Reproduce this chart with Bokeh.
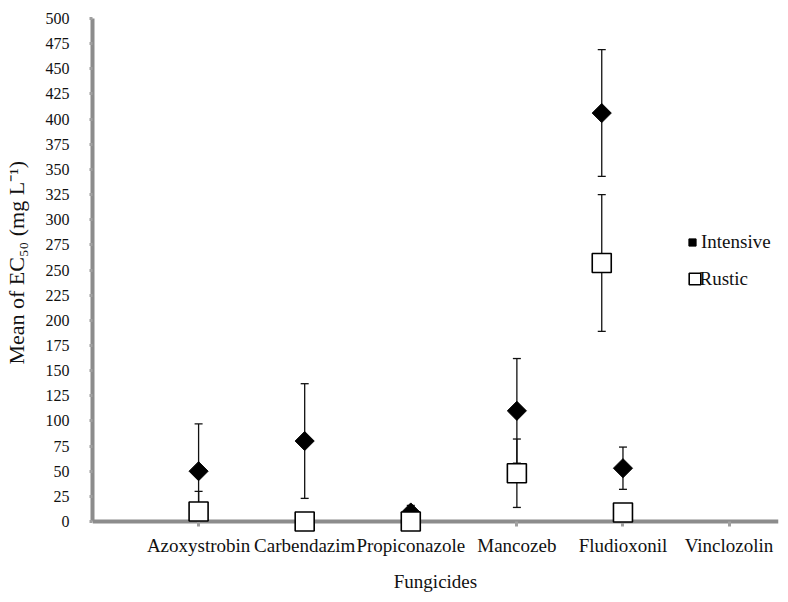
import math
from bokeh.plotting import figure
from bokeh.models import (ColumnDataSource, Whisker, TeeHead, Legend, LegendItem,
                          FixedTicker, Range1d, Label, LinearAxis)
from bokeh.embed import file_html
from bokeh.resources import INLINE

# ---- data ----
categories = ["Azoxystrobin", "Carbendazim", "Propiconazole", "Mancozeb", "Fludioxonil", "Vinclozolin"]
category_pos = [1, 2, 3, 4, 5, 6]

intensive_x = [1, 2, 3, 4, 4.8, 5]
intensive_mean = [50, 80, 9, 110, 406, 53]
intensive_err = [47, 57, 7, 52, 63, 21]

rustic_x = [1, 2, 3, 4, 4.8, 5]
rustic_mean = [10, 0, 0, 48, 257, 9]
rustic_err = [20, 0, 0, 34, 68, 0]

y_ticks = list(range(0, 501, 25))

FONT = "Liberation Serif"
AXIS_GRAY = "#8c8c8c"
TICK_GRAY = "#a0a0a0"
TEXT = "#111111"


def make_source(xs, means, errs):
    return ColumnDataSource(dict(
        x=xs, y=means,
        upper=[m + e for m, e in zip(means, errs)],
        lower=[max(m - e, 0) for m, e in zip(means, errs)],
    ))


src_int = make_source(intensive_x, intensive_mean, intensive_err)
src_rus = make_source(rustic_x, rustic_mean, rustic_err)

# frame extends a little below y=0 so markers sitting on the axis are not cut
p = figure(width=780, height=594,
           x_range=Range1d(0, 6.466), y_range=Range1d(-12.9, 500),
           output_backend="svg", toolbar_location=None,
           min_border_left=90, min_border_right=2,
           min_border_top=18, min_border_bottom=59)
p.grid.visible = False
p.outline_line_color = None
p.background_fill_color = "white"

for src in (src_int, src_rus):
    w = Whisker(source=src, base="x", upper="upper", lower="lower",
                line_color=TEXT, line_width=1.3,
                upper_head=TeeHead(size=8, line_color=TEXT, line_width=1.3),
                lower_head=TeeHead(size=8, line_color=TEXT, line_width=1.3))
    p.add_layout(w)

r_int = p.scatter("x", "y", source=src_int, marker="square", angle=math.pi / 4,
                  size=13.5, fill_color="black", line_color="black", line_width=1,
                  level="annotation")
r_rus = p.scatter("x", "y", source=src_rus, marker="square",
                  size=19, fill_color="white", line_color="black", line_width=1.6,
                  level="annotation")

# x axis at the frame bottom: only the category labels and the title
xa = p.xaxis[0]
xa.ticker = FixedTicker(ticks=category_pos)
xa.major_label_overrides = {pos: cat for pos, cat in zip(category_pos, categories)}
xa.axis_line_color = None
xa.major_tick_line_color = None
xa.major_tick_out = 0
xa.major_tick_in = 0
xa.minor_tick_line_color = None
xa.major_label_standoff = 0
xa.major_label_text_font = FONT
xa.major_label_text_font_size = "19px"
xa.major_label_text_color = TEXT
xa.axis_label = "Fungicides"
xa.axis_label_standoff = 12
xa.axis_label_text_font = FONT
xa.axis_label_text_font_style = "normal"
xa.axis_label_text_font_size = "19px"
xa.axis_label_text_color = TEXT

# x axis line with its ticks, drawn at y = 0
x0 = LinearAxis(fixed_location=0, ticker=FixedTicker(ticks=category_pos),
                axis_line_color=AXIS_GRAY, axis_line_width=4,
                major_tick_line_color=TICK_GRAY, major_tick_line_width=3,
                major_tick_in=0, major_tick_out=5, minor_tick_line_color=None,
                major_label_text_alpha=0, major_label_text_font_size="1px")
p.add_layout(x0, "below")

ya = p.yaxis[0]
ya.ticker = FixedTicker(ticks=y_ticks)
ya.bounds = (0, 500)
ya.axis_line_color = AXIS_GRAY
ya.axis_line_width = 4
ya.major_tick_line_color = TICK_GRAY
ya.major_tick_line_width = 3
ya.major_tick_in = 0
ya.major_tick_out = 3
ya.minor_tick_line_color = None
ya.major_label_text_font = FONT
ya.major_label_text_font_size = "16px"
ya.major_label_text_color = TEXT
ya.major_label_standoff = 20
ya.axis_label = "\u00a0" * 5 + "Mean of EC\u2085\u2080 (mg L\u207b\u00b9)"
ya.axis_label_standoff = 14
ya.axis_label_text_font = FONT
ya.axis_label_text_font_style = "normal"
ya.axis_label_text_font_size = "22px"
ya.axis_label_text_color = TEXT

# legends (two, so each marker gets its own size)
common = dict(border_line_color=None, background_fill_alpha=0, padding=0, margin=0,
              spacing=0, label_text_font=FONT, label_text_font_size="19px",
              label_text_color=TEXT)
leg1 = Legend(items=[LegendItem(label="Intensive", renderers=[r_int])],
              location=(591, 280), glyph_width=18, glyph_height=24, label_height=24,
              label_standoff=0, **common)
leg2 = Legend(items=[LegendItem(label=" ", renderers=[r_rus])],
              location=(588, 241), glyph_width=29, glyph_height=29, label_height=29,
              label_standoff=0, **common)
p.add_layout(leg1)
p.add_layout(leg2)
p.add_layout(Label(x=607, y=256, x_units="screen", y_units="screen", text="Rustic",
                   text_font=FONT, text_font_size="19px", text_color=TEXT,
                   text_baseline="middle", text_align="left"))

open("out.html", "w").write(file_html(p, INLINE))
